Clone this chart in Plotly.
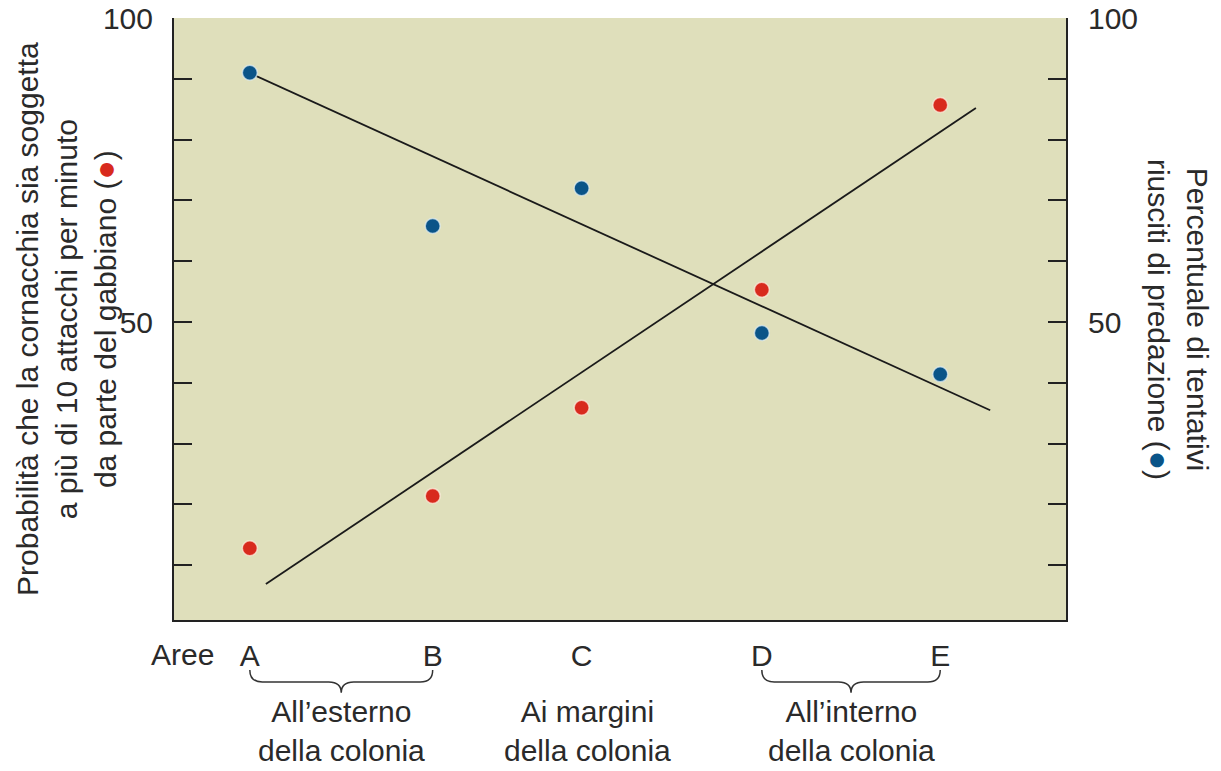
import plotly.graph_objects as go

# ---- data ----
areas = ["A", "B", "C", "D", "E"]
area_pos = [8.5, 29.0, 45.7, 65.9, 85.9]          # horizontal position of each area on the axis
prob_attacks = [12.8, 21.4, 35.9, 55.3, 85.7]      # red: probability (left axis)
pred_success = [91.0, 65.8, 72.0, 48.2, 41.4]      # blue: % successful predation (right axis)
fit_red_x = [10.3, 89.9]
fit_red_y = [6.9, 85.2]
fit_blue_x = [8.4, 91.5]
fit_blue_y = [91.0, 35.5]
y_ticks = [10, 20, 30, 40, 50, 60, 70, 80, 90, 100]
y_ticktext = ["", "", "", "", "50", "", "", "", "", "100"]
groups = [
    ("All’esterno<br>della colonia", 0, 1),
    ("Ai margini<br>della colonia", 2, 2),
    ("All’interno<br>della colonia", 3, 4),
]

RED = "#d82a1d"
BLUE = "#0a5488"
BG = "#dfdfbb"
TXT = "#2a2a2a"
FONT = "Liberation Sans, Arial, Helvetica, sans-serif"
FS = 30

fig = go.Figure()
fig.add_trace(go.Scatter(x=fit_red_x, y=fit_red_y, mode="lines",
                         line=dict(color="#1a1a1a", width=1.8), showlegend=False, hoverinfo="skip"))
fig.add_trace(go.Scatter(x=fit_blue_x, y=fit_blue_y, mode="lines", yaxis="y2",
                         line=dict(color="#1a1a1a", width=1.8), showlegend=False, hoverinfo="skip"))
fig.add_trace(go.Scatter(x=area_pos, y=prob_attacks, mode="markers",
                         marker=dict(color=RED, size=15, line=dict(color="rgba(255,240,225,0.7)", width=1.5)),
                         showlegend=False))
fig.add_trace(go.Scatter(x=area_pos, y=pred_success, mode="markers", yaxis="y2",
                         marker=dict(color=BLUE, size=15, line=dict(color="rgba(225,240,245,0.7)", width=1.5)),
                         showlegend=False))

yax_common = dict(range=[1, 100], tickmode="array", tickvals=y_ticks, ticktext=y_ticktext,
                  ticks="inside", ticklen=18, tickwidth=1.5, tickcolor="#222",
                  showgrid=False, zeroline=False, showline=True, linecolor="#222", linewidth=2,
                  automargin=False, tickfont=dict(family=FONT, size=FS, color=TXT))

fig.update_layout(
    width=1221, height=771,
    margin=dict(l=174, r=155, t=18, b=151),
    paper_bgcolor="white", plot_bgcolor=BG,
    font=dict(family=FONT, size=FS, color=TXT),
    xaxis=dict(range=[0, 100], tickmode="array", tickvals=area_pos, ticktext=areas,
               ticks="", showgrid=False, zeroline=False, showline=True, linecolor="#222", linewidth=2,
               automargin=False, tickfont=dict(family=FONT, size=FS, color=TXT), ticklabelstandoff=8),
    yaxis=dict(side="left", ticklabelstandoff=13, **yax_common),
    yaxis2=dict(side="right", overlaying="y", ticklabelstandoff=14, **yax_common),
)

# "Aree" label
fig.add_annotation(text="Aree", xref="paper", yref="paper", x=0.047, y=-0.058,
                   xanchor="right", yanchor="middle", showarrow=False,
                   font=dict(family=FONT, size=FS, color=TXT))

# braces and group labels
y_top, y_mid, y_bot = -0.083, -0.103, -0.121
r = 1.4
for label, i0, i1 in groups:
    x0, x1 = area_pos[i0], area_pos[i1]
    xm = (x0 + x1) / 2
    if i1 > i0:
        path = (f"M {x0},{y_top} Q {x0},{y_mid} {x0 + r},{y_mid} L {xm - r},{y_mid} "
                f"Q {xm},{y_mid} {xm},{y_bot} Q {xm},{y_mid} {xm + r},{y_mid} "
                f"L {x1 - r},{y_mid} Q {x1},{y_mid} {x1},{y_top}")
        fig.add_shape(type="path", path=path, xref="x", yref="paper",
                      line=dict(color="#333", width=1.5))
    fig.add_annotation(text=label, xref="x", yref="paper", x=xm + (0.6 if i1 == i0 else 0), y=-0.185,
                       xanchor="center", yanchor="middle", showarrow=False,
                       font=dict(family=FONT, size=FS, color=TXT))

# axis titles
dot = "<span style='color:{c};font-size:32px'>●</span>"
fig.add_annotation(
    text=("Probabilità che la cornacchia sia soggetta<br>"
          "a più di 10 attacchi per minuto<br>"
          "da parte del gabbiano (" + dot.format(c=RED) + ")"),
    xref="paper", yref="paper", x=-0.120, y=0.5, textangle=-90,
    xanchor="center", yanchor="middle", showarrow=False,
    font=dict(family=FONT, size=FS, color=TXT))
fig.add_annotation(
    text=("Percentuale di tentativi<br>"
          "riusciti di predazione (" + dot.format(c=BLUE) + ")"),
    xref="paper", yref="paper", x=1.1256, y=0.5, textangle=90,
    xanchor="center", yanchor="middle", showarrow=False,
    font=dict(family=FONT, size=FS, color=TXT))

fig.write_html("out.html", config={"displayModeBar": False},
               post_script="document.body.style.margin='0';")
